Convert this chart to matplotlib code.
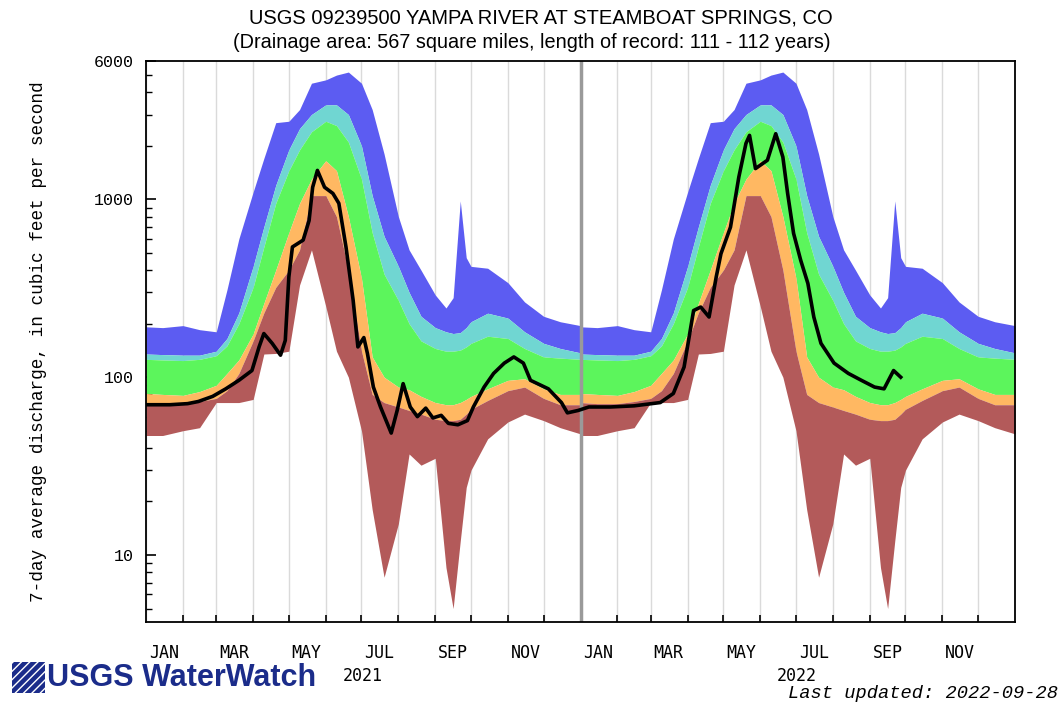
import matplotlib
matplotlib.use("Agg")
import matplotlib.pyplot as plt
import matplotlib.dates as mdates
import matplotlib.transforms as mtransforms
from matplotlib.patches import Rectangle
import numpy as np

# Percentile bands by day of year (day 0 = Jan 1)
band_doy = [0, 14, 31, 45, 59, 68, 78, 90, 99, 109, 120, 129, 139, 151, 160, 170, 181,
            190, 200, 212, 221, 231, 243, 252, 258, 264, 269, 273, 287, 304, 318, 334, 348, 365]
q_max = [192, 190, 195, 185, 180, 310, 600, 1100, 1700, 2700, 2750, 3200, 4500, 4700, 5000, 5200, 4500,
         3200, 1800, 800, 520, 400, 290, 245, 280, 980, 470, 420, 410, 340, 265, 220, 205, 195]
q_90 = [135, 134, 133, 133, 140, 165, 230, 420, 700, 1200, 1900, 2500, 3000, 3400, 3400, 3000, 2000,
        1050, 620, 420, 300, 220, 190, 180, 176, 178, 190, 205, 229, 215, 180, 155, 145, 137]
q_75 = [126, 125, 124, 126, 132, 150, 200, 320, 540, 950, 1450, 1900, 2400, 2750, 2600, 2100, 1300,
        650, 380, 270, 200, 160, 145, 140, 140, 142, 148, 155, 170, 165, 145, 130, 128, 126]
q_25 = [81, 80, 79, 83, 90, 105, 125, 175, 260, 400, 650, 950, 1300, 1650, 1450, 800, 360,
        130, 100, 88, 85, 78, 72, 70, 70, 72, 75, 78, 86, 96, 98, 86, 80, 80]
q_10 = [72, 71, 71, 73, 76, 84, 105, 160, 230, 320, 400, 520, 1050, 1050, 800, 400, 140,
        80, 72, 68, 65, 62, 58, 57, 57, 58, 62, 66, 74, 84, 88, 76, 70, 70]
q_min = [47, 47, 50, 52, 72, 72, 72, 75, 135, 136, 140, 330, 520, 250, 140, 100, 50,
         18, 7.5, 15, 37, 32, 35, 8.5, 5, 12, 24, 30, 45, 56, 62, 57, 52, 48]

# Observed 7-day average discharge (day 0 = 2021-01-01)
obs_day = [0, 20, 35, 44, 56, 67, 78, 89, 95, 99, 106, 113, 117, 120, 123, 132, 137, 140, 144, 150,
           157, 162, 168, 174, 178, 183, 186, 191, 197, 206, 211, 216, 222, 228, 235, 241, 248, 254,
           262, 270, 275, 284, 292, 301, 309, 317, 323, 338, 349, 354, 363,
           372, 390, 410, 432, 443, 452, 460, 466, 473, 479, 483, 491, 498, 504, 507, 512, 522, 529,
           535, 539, 544, 550, 556, 561, 567, 578, 590, 601, 612, 620, 628, 634]
obs_cfs = [70, 70, 71, 73, 78, 86, 96, 109, 148, 176, 155, 133, 161, 366, 540, 590, 760, 1170, 1455, 1170,
           1080, 950, 540, 271, 148, 167, 136, 88, 68, 48.5, 65, 92, 68, 60, 67, 59, 61, 55,
           54, 57, 68, 88, 105, 120, 130, 120, 96, 86, 72, 63, 65,
           68, 68, 69, 72, 81, 114, 237, 248, 218, 366, 495, 698, 1335, 2065, 2290, 1490, 1660, 2340,
           1730, 1080, 644, 454, 337, 218, 155, 120, 105, 96, 88, 86, 109, 100]

years = [2021, 2022]
month_names = ["JAN", "MAR", "MAY", "JUL", "SEP", "NOV"]

start = np.datetime64("2021-01-01")


def day_num(days):
    return mdates.date2num(start + np.array(days).astype("timedelta64[D]"))


fig = plt.figure(figsize=(10.64, 7.06), dpi=100)
ax = fig.add_axes([146 / 1064, 1 - 622 / 706, (1015 - 146) / 1064, (622 - 61) / 706])

# bands, repeated for each year
bx = np.concatenate([day_num(np.array(band_doy) + 365 * i) for i in range(len(years))])
def rep(a):
    return np.tile(np.array(a, dtype=float), len(years))

layers = [(q_90, q_max, "#5c5cf2"), (q_75, q_90, "#70d6d2"), (q_25, q_75, "#5cf55c"),
          (q_10, q_25, "#ffb862"), (q_min, q_10, "#b35a5a")]
for lo, hi, col in layers:
    ax.fill_between(bx, rep(lo), rep(hi), color=col, lw=0, zorder=2)

# month grid
months = np.arange(np.datetime64("2021-01"), np.datetime64("2023-02"), np.timedelta64(1, "M"))
mnum = mdates.date2num(months.astype("datetime64[D]"))
ax.vlines(mnum, 0, 1, transform=ax.get_xaxis_transform(), color="#dadada", lw=1, zorder=1)
ax.axvline(mdates.date2num(np.datetime64("2022-01-01")), color="#9a9a9a", lw=2.5, zorder=3)

ax.plot(day_num(obs_day), obs_cfs, color="black", lw=2.6, zorder=4)

ax.set_yscale("log")
ax.set_ylim(4.2, 6000)
ax.set_xlim(day_num([0])[0], day_num([730])[0])

ax.set_yticks([10, 100, 1000, 6000])
ax.set_yticklabels(["10", "100", "1000", "6000"], fontfamily="Liberation Mono", fontsize=12)
minors = [v * 10 ** k for k in range(0, 4) for v in range(2, 10) if 4.2 <= v * 10 ** k < 6000]
ax.set_yticks(minors, minor=True)
ax.yaxis.set_minor_formatter(plt.NullFormatter())
ax.tick_params(axis="y", which="major", direction="in", length=7, width=1.2, pad=9, right=False)
ax.tick_params(axis="y", which="minor", direction="in", length=4.5, width=1.0, right=False)

ax.set_xticks(mnum[1:-1])
ax.set_xticklabels([])
mids = []
labs = []
for y in years:
    for i, m in enumerate(month_names):
        mids.append(mdates.date2num(np.datetime64(f"{y}-{2 * i + 1:02d}-16")))
        labs.append(m)
ax.set_xticks(mids, minor=True)
ax.set_xticklabels(labs, minor=True, fontfamily="DejaVu Sans Mono", fontsize=12)
ax.tick_params(axis="x", which="major", direction="in", length=5, width=1.2, top=False)
ax.tick_params(axis="x", which="minor", length=0, pad=16)

trans = mtransforms.blended_transform_factory(ax.transData, ax.transAxes)
for y in years:
    ax.text(mdates.date2num(np.datetime64(f"{y}-07-02")), -0.096, str(y), transform=trans,
            ha="center", va="center", fontfamily="DejaVu Sans Mono", fontsize=12)

for s in ax.spines.values():
    s.set_linewidth(1.3)
    s.set_zorder(5)

ax.set_ylabel("7-day average discharge, in cubic feet per second",
              fontfamily="Liberation Mono", fontsize=12.8)
ax.yaxis.set_label_coords(-0.114, 0.5)

fig.text(0.508, 1 - 18 / 706, "USGS 09239500 YAMPA RIVER AT STEAMBOAT SPRINGS, CO",
         ha="center", va="center", fontfamily="Liberation Sans", fontsize=14.5)
fig.text(0.5, 1 - 42 / 706, "(Drainage area: 567 square miles, length of record: 111 - 112 years)",
         ha="center", va="center", fontfamily="Liberation Sans", fontsize=14.3)

navy = "#1b2c8a"
fig.add_artist(Rectangle((12 / 1064, 1 - 693 / 706), 33 / 1064, 31 / 706, transform=fig.transFigure,
                         facecolor=navy, edgecolor="white", hatch="////", lw=0))
fig.text(47 / 1064, 1 - 678 / 706, "USGS WaterWatch", ha="left", va="center",
         fontfamily="Liberation Sans", fontweight="bold", fontsize=22, color=navy)
fig.text(1058 / 1064, 1 - 693 / 706, "Last updated: 2022-09-28", ha="right", va="center",
         fontfamily="Liberation Mono", style="italic", fontsize=13.5)

fig.savefig("out.png", dpi=100)
